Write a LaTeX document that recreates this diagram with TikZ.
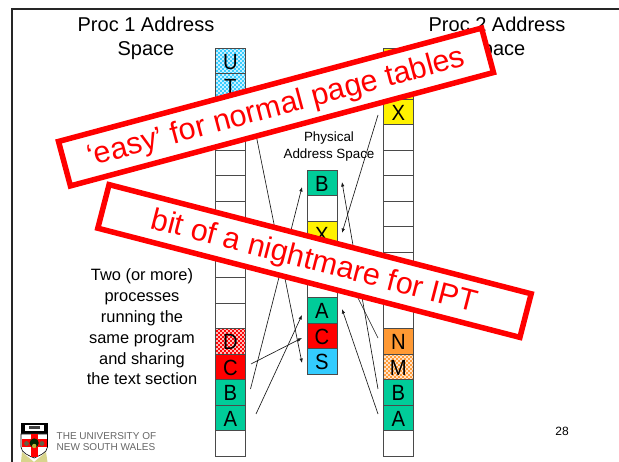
\documentclass[tikz,border=0pt]{standalone}
\usepackage{fontspec}
\setmainfont{Liberation Sans}
\usetikzlibrary{patterns,arrows.meta}
\definecolor{cgreen}{HTML}{00CC99}
\definecolor{ccyan}{HTML}{33CCFF}
\definecolor{corange}{HTML}{FF9933}
\definecolor{cedge}{HTML}{4A4A4A}
\pgfdeclarepatternformonly{wdots}{\pgfqpoint{-1pt}{-1pt}}{\pgfqpoint{5pt}{5pt}}{\pgfqpoint{4pt}{4pt}}{%
  \pgfpathcircle{\pgfqpoint{1pt}{1pt}}{1.05pt}%
  \pgfpathcircle{\pgfqpoint{3pt}{3pt}}{1.05pt}%
  \pgfusepath{fill}}
\newcommand\lett[1]{\scalebox{0.92}[1]{#1}}
\tikzset{
  cell/.style={draw=cedge,line width=0.8pt,minimum width=30pt,minimum height=25.5pt,inner sep=0pt,font=\fontsize{22}{22}\selectfont,anchor=north west,text height=15.8pt,text depth=0pt},
  green cell/.style={cell,fill=cgreen},
  red cell/.style={cell,fill=red},
  yellow cell/.style={cell,fill=yellow},
  cyan cell/.style={cell,fill=ccyan},
  orange cell/.style={cell,fill=corange},
  dotted cyan/.style={cell,preaction={fill=ccyan},pattern=wdots,pattern color=white},
  dotted red/.style={cell,preaction={fill=red},pattern=wdots,pattern color=white},
  dotted orange/.style={cell,preaction={fill=corange},pattern=wdots,pattern color=white},
  link/.style={line width=0.65pt,draw=black!90,-{Latex[length=4.5pt,width=3.5pt]}},
  banner/.style={draw=red,fill=white,line width=5.5pt,text=red,minimum width=438pt,minimum height=46pt,font=\fontsize{30.5}{30}\selectfont,inner sep=0pt,text height=25pt},
  title/.style={align=center,font=\fontsize{20}{24}\selectfont},
  note/.style={align=center,font=\fontsize{16.4}{20.8}\selectfont}
}
\begin{document}
\begin{tikzpicture}[x=1pt,y=-1pt]
\useasboundingbox (0,0) rectangle (619,462);
\fill[white] (0,0) rectangle (619,462);
% slide frame
\draw[line width=2.2pt,black!85] (619,9) -- (12,9) -- (12,462);
% titles
\node[title] (t1) at (146,38.5) {Proc 1 Address\\Space};
\node[title] (t2) at (497,38.5) {Proc 2 Address\\Space};
\node[align=center,font=\fontsize{13.4}{17}\selectfont] (phys) at (329,147) {Physical\\Address Space};
\node[note] (two) at (142,327) {Two (or more)\\processes\\running the\\same program\\and sharing\\the text section};
\node[font=\fontsize{12}{12}\selectfont] (num) at (562,431) {28};
% left column
\node[dotted cyan] (lU) at (215,48) {\lett{U}};
\node[dotted cyan] (lT) at (215,73.5) {\lett{T}};
\foreach \n/\y in {a/99,b/124.5,c/150,d/175.5,e/201,f/226.5,g/252,h/277.5,i/303}
  \node[cell] (l\n) at (215,\y) {};
\node[dotted red] (lD) at (215,328.5) {\lett{D}};
\node[red cell] (lC) at (215,354) {\lett{C}};
\node[green cell] (lB) at (215,379.5) {\lett{B}};
\node[green cell] (lA) at (215,405) {\lett{A}};
\node[cell] (lz) at (215,430.5) {};
% right column
\node[yellow cell] (rY) at (383,48) {};
\node[yellow cell] (rW) at (383,73.5) {};
\node[yellow cell] (rX) at (383,99) {\lett{X}};
\foreach \n/\y in {b/124.5,c/150,d/175.5,e/201,f/226.5,g/252,h/277.5,i/303}
  \node[cell] (r\n) at (383,\y) {};
\node[orange cell] (rN) at (383,328.5) {\lett{N}};
\node[dotted orange] (rM) at (383,354) {\lett{M}};
\node[green cell] (rB) at (383,379.5) {\lett{B}};
\node[green cell] (rA) at (383,405) {\lett{A}};
\node[cell] (rz) at (383,430.5) {};
% physical column
\node[green cell] (pB) at (306.5,170) {\lett{B}};
\node[cell] (pa) at (306.5,195.5) {};
\node[yellow cell] (pX) at (306.5,221) {\lett{X}};
\node[cell] (pb) at (306.5,246.5) {};
\node[cell] (pc) at (306.5,272) {};
\node[green cell] (pA) at (306.5,297.5) {\lett{A}};
\node[red cell] (pC) at (306.5,323) {\lett{C}};
\node[cyan cell] (pS) at (306.5,348.5) {\lett{S}};
% connector ends
\coordinate (sA) at (256,414); \coordinate (eA) at (302,315);
\coordinate (sB) at (250.5,389); \coordinate (eB) at (302,187);
\coordinate (sC) at (251,364); \coordinate (eC) at (302,338);
\coordinate (sS) at (247,90); \coordinate (eS) at (302,363);
\coordinate (sRA) at (378,414); \coordinate (eRA) at (342,309);
\coordinate (sRB) at (378,389); \coordinate (eRB) at (342,182);
\coordinate (sRN) at (378,338); \coordinate (eRN) at (342,266);
\coordinate (sRX) at (378,115); \coordinate (eRX) at (342,233);
\draw[link] (sA) -- (eA);
\draw[link] (sB) -- (eB);
\draw[link] (sC) -- (eC);
\draw[link] (sS) -- (eS);
\draw[link] (sRA) -- (eRA);
\draw[link] (sRB) -- (eRB);
\draw[link] (sRN) -- (eRN);
\draw[link] (sRX) -- (eRX);
% banners
\node[banner,rotate=15] (b1) at (276,107) {‘easy’ for normal page tables};
\node[banner,rotate=-14.5,minimum width=436pt,minimum height=45pt] (b2) at (314.5,261) {bit of a nightmare for IPT};
% logo
\fill[black] (21,423) rectangle (47.5,434);
\fill[white] (25,425) rectangle (43.5,431);
\fill[black!75] (29,426.5) rectangle (39.5,429.5);
\fill[olive!35] (22,452) -- (34,462) -- (46,452) -- (47.5,462) -- (21,462) -- cycle;
\path[fill=white,draw=black,line width=0.6pt] (21,434) -- (47.5,434) -- (47.5,447) .. controls (47.5,453) and (38,456) .. (34.2,458) .. controls (30,456) and (21,453) .. (21,447) -- cycle;
\fill[red] (30.5,434.5) rectangle (38,457.5);
\fill[red] (21.5,439.5) rectangle (47,447);
\fill[black!85!green] (34.2,443) circle (4.6pt);
\fill[black!70!yellow] (26.5,443.5) circle (2.4pt) (42,443.5) circle (2.4pt);
\fill[yellow!70!black] (34.2,446) circle (2.2pt);
\node[align=left,anchor=west,inner sep=0pt,text=black!60,font=\fontsize{10}{11}\selectfont] (uni) at (56.5,441.5) {THE UNIVERSITY OF\\NEW SOUTH WALES};
\end{tikzpicture}
\end{document}
